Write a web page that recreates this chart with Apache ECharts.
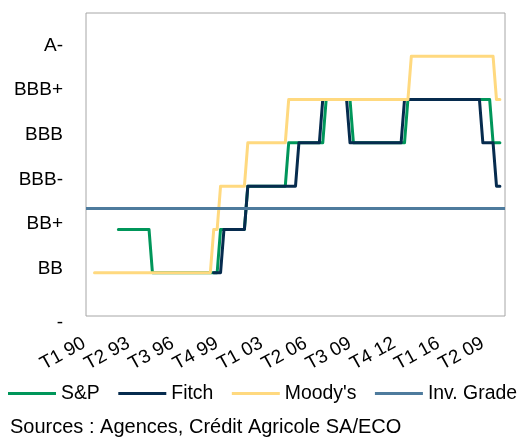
<!DOCTYPE html>
<html>
<head>
<meta charset="utf-8">
<script src="https://cdn.jsdelivr.net/npm/echarts@6/dist/echarts.min.js"></script>
<style>
html,body{margin:0;padding:0;background:#fff;}
#chart{width:520px;height:437px;}
</style>
</head>
<body>
<div id="chart"></div>
<script>
// Quarterly categories (T1 1990 .. T3 2020)
const categories = [
  'T1 90','T2 90','T3 90','T4 90','T1 91','T2 91','T3 91','T4 91',
  'T1 92','T2 92','T3 92','T4 92','T1 93','T2 93','T3 93','T4 93',
  'T1 94','T2 94','T3 94','T4 94','T1 95','T2 95','T3 95','T4 95',
  'T1 96','T2 96','T3 96','T4 96','T1 97','T2 97','T3 97','T4 97',
  'T1 98','T2 98','T3 98','T4 98','T1 99','T2 99','T3 99','T4 99',
  'T1 00','T2 00','T3 00','T4 00','T1 01','T2 01','T3 01','T4 01',
  'T1 02','T2 02','T3 02','T4 02','T1 03','T2 03','T3 03','T4 03',
  'T1 04','T2 04','T3 04','T4 04','T1 05','T2 05','T3 05','T4 05',
  'T1 06','T2 06','T3 06','T4 06','T1 07','T2 07','T3 07','T4 07',
  'T1 08','T2 08','T3 08','T4 08','T1 09','T2 09','T3 09','T4 09',
  'T1 10','T2 10','T3 10','T4 10','T1 11','T2 11','T3 11','T4 11',
  'T1 12','T2 12','T3 12','T4 12','T1 13','T2 13','T3 13','T4 13',
  'T1 14','T2 14','T3 14','T4 14','T1 15','T2 15','T3 15','T4 15',
  'T1 16','T2 16','T3 16','T4 16','T1 17','T2 17','T3 17','T4 17',
  'T1 18','T2 18','T3 18','T4 18','T1 19','T2 19','T3 19','T4 19',
  'T1 20','T2 20','T3 20'
];

// Tick labels shown on the x axis (every 13th quarter), as printed in the source
const tickLabels = ['T1 90','T2 93','T3 96','T4 99','T1 03','T2 06','T3 09','T4 12','T1 16','T2 09'];
const tickEvery = 13;

// Rating scale (value index -> label)
const ratingLabels = ['-', 'BB', 'BB+', 'BBB-', 'BBB', 'BBB+', 'A-'];

const seriesNames = ['S&P', 'Fitch', "Moody's", 'Inv. Grade'];

// Ratings by quarter (0='-', 1=BB, 2=BB+, 3=BBB-, 4=BBB, 5=BBB+, 6=A-)
const spValues = [
  null,null,null,null,null,null,null,null,null,
  2,2,2,2,2,2,2,2,2,2,
  1,1,1,1,1,1,1,1,1,1, 1,1,1,1,1,1,1,1,1,1,
  2,2,2,2,2,2,2,2,
  3,3,3,3,3,3,3,3,3,3,3,3,
  4,4,4,4,4,4,4,4,4,4,4,
  5,5,5,5,5,5,5,5,
  4,4,4,4,4,4,4,4,4,4, 4,4,4,4,4,4,
  5,5,5,5,5,5,5,5,5,5, 5,5,5,5,5,5,5,5,5,5, 5,5,5,5,5,
  4,4,4,
  null
];

const fitchValues = [
  null,null,null,null,null,null,null,null,null,null,
  null,null,null,null,null,null,null,null,null,null,
  null,null,null,null,null,null,null,null,null,null,
  null,null,null,null,null,null,null,
  1,1,1,
  2,2,2,2,2,2,2,
  3,3,3,3,3,3,3,3,3,3, 3,3,3,3,3,
  4,4,4,4,4,4,4,
  5,5,5,5,5,5,5,5,
  4,4,4,4,4,4,4,4,4,4, 4,4,4,4,4,4,
  5,5,5,5,5,5,5,5,5,5, 5,5,5,5,5,5,5,5,5,5, 5,5,5,
  4,4,4,4,
  3,3,
  null
];

const moodysValues = [
  null,null,
  1,1,1,1,1,1,1,1,1,1, 1,1,1,1,1,1,1,1,1,1, 1,1,1,1,1,1,1,1,1,1, 1,1,1,1,1,
  2,2,
  3,3,3,3,3,3,3,3,
  4,4,4,4,4,4,4,4,4,4,4,4,
  5,5,5,5,5,5,5,5,5,5, 5,5,5,5,5,5,5,5,5,5, 5,5,5,5,5,5,5,5,5,5, 5,5,5,5,5,5,
  6,6,6,6,6,6,6,6,6,6, 6,6,6,6,6,6,6,6,6,6, 6,6,6,6,6,
  5,5,
  null
];

// Investment-grade threshold (between BB+ and BBB-)
const invGradeLevel = 2.5;

const sourceText = 'Sources : Agences, Crédit Agricole SA/ECO';

const FONT = "'Liberation Sans', Arial, sans-serif";
const colors = ['#00965A', '#062B4E', '#FFD97F', '#4E7B9D'];

// small vertical nudges of the y labels, as laid out in the source
const yLabelShift = [6.5, -4.4, -6.1, -6.1, -8, -9.6, -10.8];
const rich = {};
yLabelShift.forEach((s, i) => {
  rich['r' + i] = {
    fontSize: 19, fontFamily: FONT, color: '#000',
    padding: s >= 0 ? [2 * s, 0, 0, 0] : [0, 0, -2 * s, 0]
  };
});

const chart = echarts.init(document.getElementById('chart'), null, {renderer: 'canvas'});

function lineSeries(name, data, color, z) {
  return {
    name: name, type: 'line', data: data, symbol: 'none', z: z,
    connectNulls: false,
    lineStyle: {color: color, width: 3, cap: 'round', join: 'round'},
    itemStyle: {color: color}
  };
}

chart.setOption({
  animation: false,
  color: colors,
  textStyle: {fontFamily: FONT},
  grid: {show: true, left: 86, top: 13, right: 15, bottom: 121,
         borderColor: '#A6A6A6', borderWidth: 1, backgroundColor: 'transparent'},
  xAxis: {
    type: 'category', data: categories, boundaryGap: true,
    axisLine: {show: false}, axisTick: {show: false}, splitLine: {show: false},
    axisLabel: {
      interval: tickEvery - 1, rotate: 29, margin: 24,
      fontSize: 19, fontFamily: FONT, color: '#000',
      padding: [0, 4, 0, 0],
      formatter: function (v, idx) {
        const k = idx / tickEvery;
        return (Number.isInteger(k) && tickLabels[k] !== undefined) ? tickLabels[k] : v;
      }
    }
  },
  yAxis: {
    type: 'value', min: 0, max: 7, interval: 1,
    axisLine: {show: false}, axisTick: {show: false}, splitLine: {show: false},
    axisLabel: {
      margin: 23, fontSize: 19, fontFamily: FONT, color: '#000',
      formatter: function (v) {
        const lab = ratingLabels[v];
        return lab === undefined ? '' : '{r' + v + '|' + lab + '}';
      },
      rich: rich
    }
  },
  legend: {
    left: 8, top: 384, width: 512, padding: 0,
    itemWidth: 48, itemHeight: 3, itemGap: 18.5, icon: 'rect',
    data: seriesNames,
    textStyle: {fontSize: 19.4, fontFamily: FONT, color: '#000'}
  },
  graphic: [{
    type: 'text', left: 10, top: 417,
    style: {text: sourceText, font: '20px ' + FONT, fill: '#000'}
  }],
  series: [
    lineSeries(seriesNames[0], spValues, colors[0], 2),
    lineSeries(seriesNames[1], fitchValues, colors[1], 3),
    lineSeries(seriesNames[2], moodysValues, colors[2], 4),
    {
      name: seriesNames[3], type: 'line', data: [], symbol: 'none', z: 5,
      lineStyle: {color: colors[3], width: 3},
      itemStyle: {color: colors[3]},
      markLine: {
        silent: true, symbol: 'none', label: {show: false},
        lineStyle: {color: colors[3], width: 3, type: 'solid'},
        data: [{yAxis: invGradeLevel}]
      }
    }
  ]
});
</script>
</body>
</html>
